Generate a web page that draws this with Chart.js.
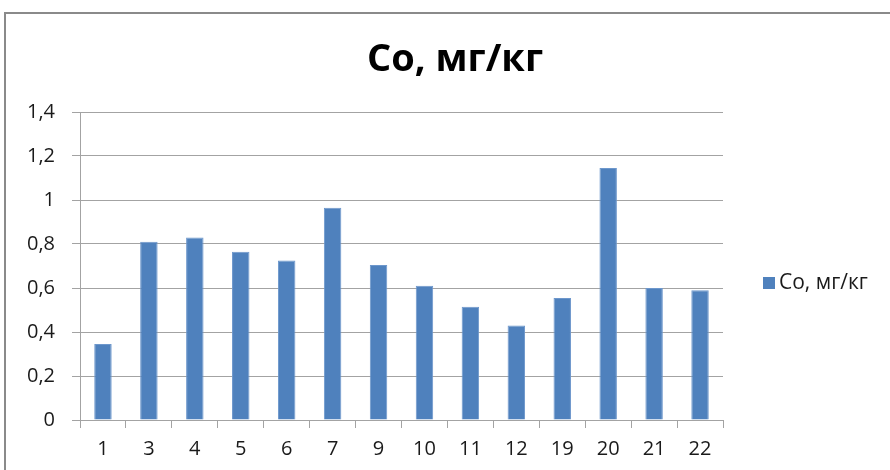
<!DOCTYPE html>
<html>
<head>
<meta charset="utf-8">
<script src="https://cdn.jsdelivr.net/npm/chart.js@4.4.1/dist/chart.umd.min.js"></script>
<style>
  html, body { margin: 0; padding: 0; background: #fff; }
  #wrap { position: relative; width: 890px; height: 470px; }
</style>
</head>
<body>
<div id="wrap"><canvas id="c" width="890" height="470"></canvas></div>
<script>
// Sample point numbers and cobalt content
const categories = ['1', '3', '4', '5', '6', '7', '9', '10', '11', '12', '19', '20', '21', '22'];
const cobalt = [0.345, 0.81, 0.83, 0.765, 0.725, 0.965, 0.705, 0.61, 0.515, 0.43, 0.555, 1.145, 0.60, 0.59];
const seriesName = 'Со, мг/кг';
const yTicks = [0, 0.2, 0.4, 0.6, 0.8, 1, 1.2, 1.4];

const FONT = '"Open Sans", "Liberation Sans", sans-serif';
const GRID = '#a3a3a3';
const BAR = '#4f81bd';

// Outer frame of the chart object
const framePlugin = {
  id: 'frame',
  beforeDraw(chart) {
    const ctx = chart.ctx;
    ctx.save();
    ctx.strokeStyle = '#8a8a8a';
    ctx.lineWidth = 2;
    ctx.strokeRect(5, 13, 2000, 2000);
    ctx.restore();
  }
};

// Legend to the right of the plot area
const sideLegend = {
  id: 'sideLegend',
  afterDraw(chart) {
    const ctx = chart.ctx;
    const area = chart.chartArea;
    const ds = chart.data.datasets[0];
    const x = area.right + 40;
    const y = 283;
    ctx.save();
    ctx.fillStyle = ds.backgroundColor;
    ctx.fillRect(x, y - 6, 12, 12);
    ctx.fillStyle = '#1a1a1a';
    ctx.font = '21px ' + FONT;
    ctx.textBaseline = 'middle';
    ctx.textAlign = 'left';
    ctx.fillText(ds.label, x + 16, y);
    ctx.restore();
  }
};

new Chart(document.getElementById('c'), {
  type: 'bar',
  data: {
    labels: categories,
    datasets: [{
      label: seriesName,
      data: cobalt,
      backgroundColor: BAR,
      borderColor: '#6d97cc',
      borderWidth: 1,
      barPercentage: 0.38,
      categoryPercentage: 1
    }]
  },
  options: {
    responsive: false,
    animation: false,
    devicePixelRatio: 1,
    layout: { padding: { left: 20, right: 0, top: 0, bottom: 0 } },
    plugins: {
      legend: { display: false },
      tooltip: { enabled: false },
      title: {
        display: true,
        text: seriesName,
        color: '#000',
        font: { family: FONT, size: 38, weight: 'bold', lineHeight: 1.2 },
        padding: { top: 37, bottom: 29.4 }
      }
    },
    scales: {
      x: {
        grid: {
          offset: true,
          drawOnChartArea: false,
          drawTicks: true,
          tickLength: 8,
          color: GRID
        },
        border: { color: GRID, width: 1 },
        ticks: {
          color: '#1a1a1a',
          font: { family: FONT, size: 20 },
          padding: 9,
          maxRotation: 0,
          autoSkip: false
        },
        afterFit(scale) { scale.height = 50; }
      },
      y: {
        min: 0,
        max: 1.4,
        afterBuildTicks(scale) { scale.ticks = yTicks.map(v => ({ value: v })); },
        grid: { color: GRID, tickLength: 8, lineWidth: 1 },
        border: { color: GRID, width: 1 },
        ticks: {
          color: '#1a1a1a',
          font: { family: FONT, size: 20 },
          padding: 17,
          callback: v => String(Math.round(v * 10) / 10).replace('.', ',')
        },
        afterFit(scale) { scale.width = 60; }
      },
      // empty column on the right that holds the legend
      legendSpace: {
        axis: 'y',
        position: 'right',
        display: true,
        grid: { display: false },
        border: { display: false },
        ticks: { display: false },
        afterFit(scale) { scale.width = 167; }
      }
    }
  },
  plugins: [framePlugin, sideLegend]
});
</script>
</body>
</html>
